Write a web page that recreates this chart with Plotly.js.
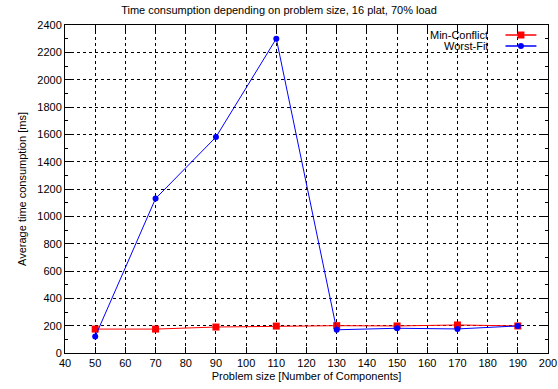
<!DOCTYPE html>
<html><head><meta charset="utf-8">
<script src="https://cdn.plot.ly/plotly-3.0.1.min.js"></script>
<style>body{margin:0;padding:0;background:#fff}#chart{width:558px;height:389px}</style>
</head><body><div id="chart"></div>
<script>
const problemSize = [50, 70, 90, 110, 130, 150, 170, 190];
const minConflict = [175, 175, 190, 197, 200, 198, 205, 198];
const worstFit = [120, 1130, 1580, 2300, 170, 181, 176, 198];
const seriesNames = ['Min-Conflict', 'Worst-Fit'];
const seriesColors = ['#ff0000', '#0000ff'];

const font = {family: 'Liberation Sans, Arial, sans-serif', size: 11, color: '#000'};
const traces = [
  {x: problemSize, y: minConflict, name: seriesNames[0], type: 'scatter', mode: 'lines+markers',
   line: {color: seriesColors[0], width: 1}, marker: {symbol: 'square', size: 7, color: seriesColors[0]}},
  {x: problemSize, y: worstFit, name: seriesNames[1], type: 'scatter', mode: 'lines+markers',
   line: {color: seriesColors[1], width: 1}, marker: {symbol: 'circle', size: 6, color: seriesColors[1]}}
];
const axisCommon = {
  showline: true, linecolor: '#000', linewidth: 1, mirror: 'allticks',
  ticks: 'inside', ticklen: 6, tickcolor: '#000',
  showgrid: true, gridcolor: '#000', griddash: 'dot', gridwidth: 1,
  zeroline: false, tickfont: font
};

// gnuplot-style key: text on the left, line sample on the right
const keyRows = [0.9695, 0.9360];
const keyTextX = 0.878, keyLine = [0.912, 0.976], keyMark = 0.944;
const annotations = [], shapes = [];
seriesNames.forEach((nm, i) => {
  annotations.push({xref: 'paper', yref: 'paper', x: keyTextX, y: keyRows[i], xanchor: 'right', yanchor: 'middle',
    align: 'right', text: nm, showarrow: false, font: font, height: 10, borderpad: 0});
  shapes.push({type: 'line', xref: 'paper', yref: 'paper', x0: keyLine[0], x1: keyLine[1], y0: keyRows[i], y1: keyRows[i],
    line: {color: seriesColors[i], width: 1.5}});
  const r = i === 0 ? 3.5 : 3;
  shapes.push({type: i === 0 ? 'rect' : 'circle', xref: 'paper', yref: 'paper', xsizemode: 'pixel', ysizemode: 'pixel',
    xanchor: keyMark, yanchor: keyRows[i], x0: -r, x1: r, y0: -r, y1: r,
    fillcolor: seriesColors[i], line: {width: 0}});
});

const layout = {
  width: 558, height: 389,
  margin: {l: 65, r: 10, t: 25, b: 36},
  paper_bgcolor: '#fff', plot_bgcolor: '#fff',
  font: font, showlegend: false,
  title: {text: 'Time consumption depending on problem size, 16 plat, 70% load', font: {family: font.family, size: 11}, x: 0.5, xanchor: 'center', y: 0.985, yanchor: 'top'},
  xaxis: Object.assign({}, axisCommon, {range: [40, 200], tick0: 40, dtick: 10,
    title: {text: 'Problem size [Number of Components]', font: font, standoff: 4}}),
  yaxis: Object.assign({}, axisCommon, {range: [0, 2400], tick0: 0, dtick: 200,
    minor: {ticks: 'inside', ticklen: 3, dtick: 100, tickcolor: '#000', showgrid: false},
    title: {text: 'Average time consumption [ms]', font: font, standoff: 8}}),
  annotations: annotations, shapes: shapes
};
Plotly.newPlot('chart', traces, layout, {displayModeBar: false, staticPlot: true});
</script></body></html>
